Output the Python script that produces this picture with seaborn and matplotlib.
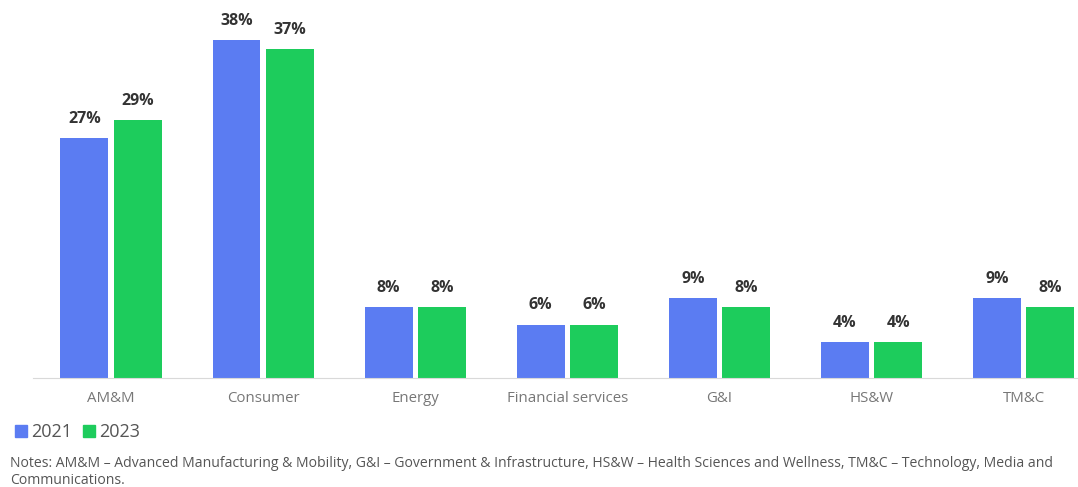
#     Imports
import matplotlib
matplotlib.use("Agg")
import matplotlib.pyplot as plt
from matplotlib.lines import Line2D
import seaborn as sns
import pandas as pd

# Data
sectors = ["AM&M", "Consumer", "Energy", "Financial services", "G&I", "HS&W", "TM&C"]
share_2021 = [27, 38, 8, 6, 9, 4, 9]
share_2023 = [29, 37, 8, 6, 8, 4, 8]
years = ["2021", "2023"]
colors = ["#5b7cf2", "#1dcc5c"]
note = ("Notes: AM&M \u2013 Advanced Manufacturing & Mobility, G&I \u2013 Government & Infrastructure, "
        "HS&W \u2013 Health Sciences and Wellness, TM&C \u2013 Technology, Media and\nCommunications.")

df = pd.DataFrame({
    "sector": sectors * 2,
    "year": ["2021"] * len(sectors) + ["2023"] * len(sectors),
    "share": share_2021 + share_2023,
})

sns.set_style("white")
plt.rcParams["font.family"] = ["Open Sans", "DejaVu Sans"]

fig = plt.figure(figsize=(10.78, 4.87), dpi=100)
ax = fig.add_axes([33 / 1078, 109 / 487, 1045 / 1078, 356 / 487])

sns.barplot(data=df, x="sector", y="share", hue="year", palette=colors, saturation=1,
            width=0.7, gap=0.1, linewidth=0, ax=ax, legend=False)

# Value labels on top of the bars
for container in ax.containers:
    ax.bar_label(container, labels=[f"{v:.0f}%" for v in container.datavalues],
                 padding=8, fontsize=11.5, fontweight="bold", color="#333333", clip_on=False)

ax.set_xlim(-0.513, 6.357)
ax.set_ylim(0, 40)
ax.set_xlabel("")
ax.set_ylabel("")
ax.set_yticks([])
for side in ["top", "right", "left"]:
    ax.spines[side].set_visible(False)
ax.spines["bottom"].set_color("#d9d9d9")
ax.tick_params(axis="x", length=4, color="#d9d9d9", labelsize=10.8, labelcolor="#777777", pad=5)

# Legend with small rounded squares
handles = [Line2D([0], [0], marker="s", linestyle="", markersize=9, color=c, label=y)
           for c, y in zip(colors, years)]
fig.legend(handles=handles, loc="center left", bbox_to_anchor=(0.0, 1 - 432 / 487), ncol=2,
           frameon=False, fontsize=13, handletextpad=0.1, columnspacing=0.5,
           handlelength=0.9, borderaxespad=0.3, labelcolor="#555555")

fig.text(10 / 1078, 1 - 472 / 487, note, fontsize=10.1, color="#555555", va="center",
         linespacing=1.1)

plt.savefig("out.png", dpi=100)
